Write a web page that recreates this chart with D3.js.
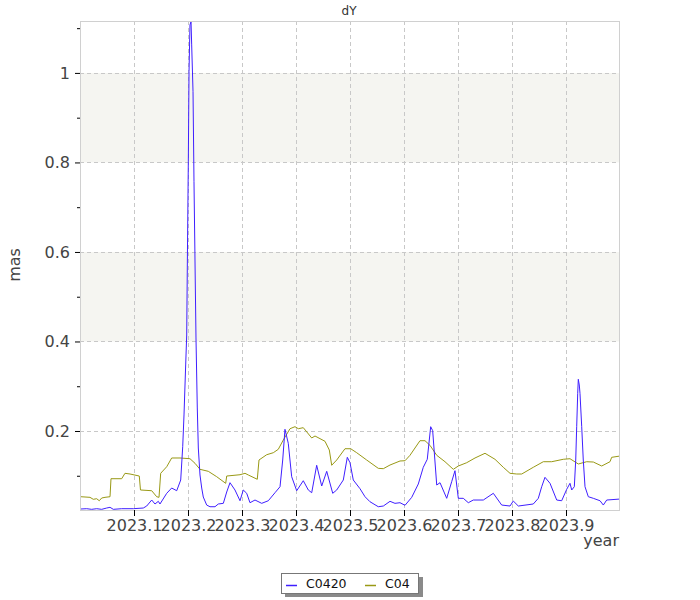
<!DOCTYPE html>
<html><head><meta charset="utf-8">
<script src="https://cdn.jsdelivr.net/npm/d3@7"></script>
<style>body{margin:0;background:#fff;} svg{display:block;}</style>
</head><body>
<svg id="chart" width="700" height="600"></svg>
<script>
const title = "dY";
const xLabel = "year";
const yLabel = "mas";
const seriesNames = ["C0420", "C04"];
const seriesColors = ["#3f1fff", "#999915"];
const xTicks = [2023.1, 2023.2, 2023.3, 2023.4, 2023.5, 2023.6, 2023.7, 2023.8, 2023.9];
const xTickLabels = ["2023.1", "2023.2", "2023.3", "2023.4", "2023.5", "2023.6", "2023.7", "2023.8", "2023.9"];
const yMajorTicks = [0.2, 0.4, 0.6, 0.8, 1.0];
const yTickLabels = ["0.2", "0.4", "0.6", "0.8", "1"];
const yMinorTicks = [0.1, 0.3, 0.5, 0.7, 0.9, 1.1];
const shadedBands = [[0.4, 0.6], [0.8, 1.0]];
const xDomain = [2023.0, 2024.0];
const yDomain = [0.0235, 1.116];

// C0420 (offset years, values)
const c0420Years = [0.0013,0.0124,0.0216,0.0309,0.0402,0.0494,0.0556,0.0617,0.0772,0.0987,0.1172,0.1235,0.1328,0.1389,0.1450,0.1481,0.1606,0.1698,0.1791,0.1865,0.1902,0.1926,0.1957,0.1976,0.1987,0.2006,0.2019,0.2037,0.2056,0.2068,0.2093,0.2111,0.2148,0.2172,0.2191,0.2222,0.2254,0.2283,0.2346,0.2407,0.2500,0.2561,0.2654,0.2717,0.2778,0.2870,0.2963,0.3024,0.3087,0.3148,0.3241,0.3365,0.3487,0.3611,0.3704,0.3754,0.3796,0.3857,0.3920,0.4013,0.4135,0.4228,0.4291,0.4383,0.4476,0.4569,0.4680,0.4754,0.4876,0.4950,0.5000,0.5061,0.5185,0.5278,0.5370,0.5524,0.5617,0.5741,0.5833,0.5926,0.6019,0.6143,0.6265,0.6357,0.6431,0.6494,0.6531,0.6606,0.6667,0.6791,0.6883,0.6944,0.7006,0.7098,0.7191,0.7283,0.7469,0.7654,0.7809,0.7963,0.8024,0.8117,0.8394,0.8487,0.8550,0.8611,0.8704,0.8828,0.8920,0.9013,0.9074,0.9106,0.9154,0.9180,0.9198,0.9217,0.9228,0.9246,0.9259,0.9291,0.9320,0.9352,0.9413,0.9506,0.9630,0.9691,0.9754,1.0000];
const c0420Values = [0.0257,0.0264,0.0250,0.0264,0.0250,0.0279,0.0295,0.0250,0.0264,0.0264,0.0279,0.0324,0.0458,0.0369,0.0429,0.0369,0.0608,0.0726,0.0666,0.0905,0.1649,0.2358,0.3475,0.4145,0.5642,0.8018,1.0029,1.1073,1.1146,1.0626,0.9582,0.7571,0.4078,0.2514,0.1620,0.1017,0.0726,0.0525,0.0346,0.0308,0.0308,0.0369,0.0384,0.0637,0.0845,0.0682,0.0442,0.0682,0.0608,0.0398,0.0458,0.0384,0.0442,0.0621,0.0755,0.1352,0.2038,0.1725,0.0979,0.0666,0.0889,0.0682,0.0621,0.1234,0.0771,0.1099,0.0608,0.0682,0.0905,0.1412,0.1292,0.0905,0.0711,0.0532,0.0420,0.0308,0.0324,0.0429,0.0384,0.0398,0.0340,0.0518,0.0816,0.1189,0.1368,0.2096,0.2007,0.0793,0.0845,0.0496,0.0867,0.1113,0.0496,0.0496,0.0398,0.0458,0.0458,0.0608,0.0346,0.0324,0.0436,0.0324,0.0369,0.0496,0.0755,0.0965,0.0831,0.0458,0.0442,0.0697,0.0831,0.0682,0.0755,0.1352,0.2096,0.2842,0.3155,0.3028,0.2842,0.2096,0.1352,0.0755,0.0532,0.0496,0.0442,0.0346,0.0458,0.0480];

// C04 (offset years, values)
const c04Years = [0.0013,0.0185,0.0246,0.0309,0.0357,0.0402,0.0463,0.0556,0.0574,0.0772,0.0833,0.0926,0.1098,0.1120,0.1328,0.1420,0.1463,0.1494,0.1606,0.1698,0.1852,0.2037,0.2130,0.2222,0.2376,0.2531,0.2698,0.2717,0.2963,0.3056,0.3117,0.3283,0.3315,0.3457,0.3580,0.3672,0.3765,0.3889,0.3981,0.4043,0.4135,0.4291,0.4352,0.4537,0.4617,0.4661,0.4754,0.4907,0.5013,0.5124,0.5309,0.5524,0.5617,0.5741,0.5926,0.6019,0.6111,0.6296,0.6389,0.6481,0.6606,0.6759,0.6913,0.7006,0.7161,0.7315,0.7500,0.7685,0.7839,0.7963,0.8087,0.8180,0.8394,0.8580,0.8735,0.8950,0.9074,0.9228,0.9383,0.9506,0.9661,0.9815,0.9846,1.0000];
const c04Values = [0.0532,0.0518,0.0474,0.0487,0.0442,0.0503,0.0518,0.0532,0.0934,0.0934,0.1055,0.1039,0.0994,0.0682,0.0666,0.0532,0.0518,0.1055,0.1202,0.1397,0.1397,0.1381,0.1278,0.1144,0.1099,0.0979,0.0831,0.0994,0.1023,0.1055,0.1017,0.0921,0.1352,0.1470,0.1515,0.1591,0.1799,0.2051,0.2096,0.2051,0.2074,0.1844,0.1888,0.1770,0.1575,0.1234,0.1352,0.1604,0.1604,0.1515,0.1352,0.1166,0.1158,0.1240,0.1330,0.1336,0.1457,0.1783,0.1783,0.1680,0.1457,0.1314,0.1144,0.1218,0.1292,0.1397,0.1502,0.1368,0.1189,0.1055,0.1039,0.1039,0.1189,0.1314,0.1314,0.1368,0.1381,0.1263,0.1314,0.1307,0.1218,0.1314,0.1412,0.1441];

const baseYear = 2023;
const series = [
  {name: seriesNames[0], color: seriesColors[0], pts: c0420Years.map((t, i) => [baseYear + t, c0420Values[i]])},
  {name: seriesNames[1], color: seriesColors[1], pts: c04Years.map((t, i) => [baseYear + t, c04Values[i]])}
];

const svg = d3.select("#chart");
const L = 80, R = 620, T = 21, B = 510;
const x = d3.scaleLinear().domain(xDomain).range([L, R]);
const y = d3.scaleLinear().domain(yDomain).range([B, T]);
const font = "DejaVu Sans, sans-serif";

// bands
svg.append("g").selectAll("rect").data(shadedBands).join("rect")
  .attr("x", L).attr("width", R - L)
  .attr("y", d => y(d[1])).attr("height", d => y(d[0]) - y(d[1]))
  .attr("fill", "#f5f5f1");

// grid
const grid = svg.append("g").attr("stroke", "#c8c8c8").attr("stroke-dasharray", "4,3").attr("stroke-width", 1);
grid.selectAll("line.v").data(xTicks).join("line").attr("class", "v")
  .attr("x1", d => Math.round(x(d)) + 0.5).attr("x2", d => Math.round(x(d)) + 0.5)
  .attr("y1", T).attr("y2", B);
grid.selectAll("line.h").data(yMajorTicks).join("line").attr("class", "h")
  .attr("y1", d => Math.round(y(d)) + 0.5).attr("y2", d => Math.round(y(d)) + 0.5)
  .attr("x1", L).attr("x2", R);

// lines
svg.append("clipPath").attr("id", "clip").append("rect")
  .attr("x", L).attr("y", T).attr("width", R - L).attr("height", B - T);
const line = d3.line().x(d => x(d[0])).y(d => y(d[1]));
svg.append("g").attr("clip-path", "url(#clip)").selectAll("path").data(series.slice().reverse()).join("path")
  .attr("d", d => line(d.pts)).attr("fill", "none")
  .attr("stroke", d => d.color).attr("stroke-width", 1);

// frame
svg.append("rect").attr("x", L + 0.5).attr("y", T + 0.5).attr("width", R - L - 1).attr("height", B - T)
  .attr("fill", "none").attr("stroke", "#d0d0d0");

// y axis
const yAxis = d3.axisLeft(y).tickValues(yMajorTicks).tickSize(5).tickPadding(5)
  .tickFormat((d, i) => yTickLabels[i]);
const gy = svg.append("g").attr("transform", `translate(${L},0)`).call(yAxis);
gy.select(".domain").remove();
gy.selectAll(".tick line").attr("stroke", "#000");
gy.selectAll("text").attr("font-family", font).attr("font-size", 16).attr("fill", "#444");
const gyMinor = svg.append("g").attr("transform", `translate(${L},0)`)
  .call(d3.axisLeft(y).tickValues(yMinorTicks).tickSize(3).tickFormat(""));
gyMinor.select(".domain").remove();
gyMinor.selectAll(".tick line").attr("stroke", "#000");

// x axis
const xAxis = d3.axisBottom(x).tickValues(xTicks).tickSize(6).tickPadding(4)
  .tickFormat((d, i) => xTickLabels[i]);
const gx = svg.append("g").attr("transform", `translate(0,${B})`).call(xAxis);
gx.select(".domain").remove();
gx.selectAll(".tick line").attr("stroke", "#000");
gx.selectAll("text").attr("font-family", font).attr("font-size", 16).attr("fill", "#444");

// labels
svg.append("text").attr("x", 349).attr("y", 15).attr("text-anchor", "middle")
  .attr("font-family", font).attr("font-size", 12).attr("fill", "#333").text(title);
svg.append("text").attr("x", 619).attr("y", 546).attr("text-anchor", "end")
  .attr("font-family", font).attr("font-size", 16).attr("fill", "#444").text(xLabel);
svg.append("text").attr("transform", "translate(20,265) rotate(-90)").attr("text-anchor", "middle")
  .attr("font-family", font).attr("font-size", 16).attr("fill", "#444").text(yLabel);

// legend
const lg = svg.append("g");
lg.append("rect").attr("x", 285).attr("y", 577).attr("width", 138).attr("height", 20).attr("fill", "#8a8a8a");
lg.append("rect").attr("x", 281.5).attr("y", 573.5).attr("width", 137).attr("height", 20)
  .attr("fill", "#fff").attr("stroke", "#777");
const legendX = [286, 365];
series.forEach((s, i) => {
  lg.append("line").attr("x1", legendX[i]).attr("x2", legendX[i] + 11)
    .attr("y1", 585.5).attr("y2", 585.5).attr("stroke", s.color).attr("stroke-width", 1.5);
  lg.append("text").attr("x", legendX[i] + 20).attr("y", 588)
    .attr("font-family", font).attr("font-size", 12.5).attr("fill", "#111").text(s.name);
});
</script>
</body></html>
